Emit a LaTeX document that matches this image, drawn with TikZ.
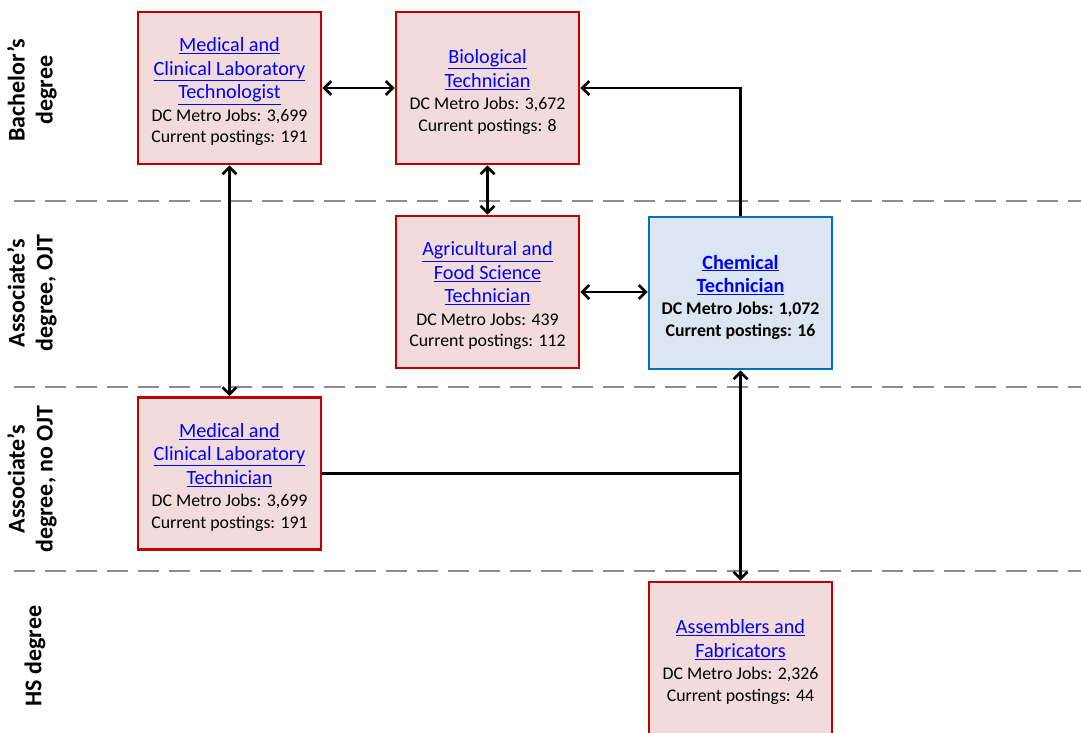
\documentclass[tikz,border=0pt]{standalone}
\usepackage{fontspec}
\setmainfont{Carlito}
\usetikzlibrary{arrows.meta}
\definecolor{redb}{HTML}{C00000}
\definecolor{redf}{HTML}{F2DCDB}
\definecolor{blueb}{HTML}{0070C0}
\definecolor{bluef}{HTML}{DCE6F2}
\definecolor{lnk}{HTML}{0000FF}
\newcommand{\lk}[1]{\textcolor{lnk}{\underline{#1}}}
\newcommand{\topstrut}{\rule{0pt}{22pt}}
\tikzset{
  job/.style={draw=redb, fill=redf, line width=2.8pt, minimum width=183pt, minimum height=152pt,
    align=center, inner sep=0pt, font=\fontsize{17.8}{21.5}\selectfont},
  chemjob/.style={job, draw=blueb, fill=bluef, font=\bfseries\fontsize{17.8}{21.5}\selectfont},
  lvl/.style={rotate=90, align=center, font=\bfseries\fontsize{24}{28}\selectfont},
  sep/.style={draw=gray!90, line width=2.2pt, dash pattern=on 21pt off 10pt},
  con/.style={line width=2.6pt, black},
  arr/.style={con, {Straight Barb[length=7pt,width=14pt,line width=2.6pt]}-{Straight Barb[length=7pt,width=14pt,line width=2.6pt]}},
  arre/.style={con, -{Straight Barb[length=7pt,width=14pt,line width=2.6pt]}},
}
\newcommand{\ttl}[1]{{\fontsize{20.2}{24.5}\selectfont #1}}
\begin{document}
\begin{tikzpicture}[x=1pt,y=-1pt]
\useasboundingbox (0,0) rectangle (1081,732);
\begin{scope}
\clip (0,0) rectangle (1081,732);
% separators
\draw[sep] (14,201) -- (1081,201);
\draw[sep] (14,387) -- (1081,387);
\draw[sep] (14,571) -- (1081,571);
% level labels
\node[lvl] (l1) at (32,90) {Bachelor’s\\degree};
\node[lvl] (l2) at (32,293) {Associate’s\\degree, OJT};
\node[lvl] (l3) at (32,479) {Associate’s\\degree, no OJT};
\node[lvl] (l4) at (35,656) {HS degree};
% jobs
\node[job] (mlt) at (229.5,88) {\topstrut\ttl{\lk{Medical and}}\\[2pt]\ttl{\lk{Clinical Laboratory}}\\[2pt]\ttl{\lk{Technologist}}\\[1pt]DC Metro Jobs: 3,699\\Current postings: 191};
\node[job] (bio) at (487.5,88) {\topstrut\ttl{\lk{Biological}}\\[2.5pt]\ttl{\lk{Technician}}\\[1pt]DC Metro Jobs: 3,672\\Current postings: 8};
\node[job] (agr) at (487.5,292) {\topstrut\ttl{\lk{Agricultural and}}\\[2pt]\ttl{\lk{Food Science}}\\[2pt]\ttl{\lk{Technician}}\\[1pt]DC Metro Jobs: 439\\Current postings: 112};
\node[chemjob] (chem) at (740.5,293) {\topstrut\ttl{\lk{Chemical}}\\[2pt]\ttl{\lk{Technician}}\\[0.5pt]DC Metro Jobs: 1,072\\Current postings: 16};
\node[job] (mltech) at (229.5,473.5) {\topstrut\ttl{\lk{Medical and}}\\[2pt]\ttl{\lk{Clinical Laboratory}}\\[2pt]\ttl{\lk{Technician}}\\[1pt]DC Metro Jobs: 3,699\\Current postings: 191};
\node[job] (asm) at (740.5,658) {\topstrut\ttl{\lk{Assemblers and}}\\[2.5pt]\ttl{\lk{Fabricators}}\\[0.5pt]DC Metro Jobs: 2,326\\Current postings: 44};
% connectors
\draw[arr] (mlt.east) -- (bio.west);
\draw[arr] (bio.south) -- (agr.north);
\draw[arr] (mlt.south) -- (mltech.north);
\draw[arr] (agr.east) -- (agr.east -| chem.west);
\draw[arre] (chem.north) |- (bio.east);
\coordinate (j) at (chem.south |- mltech.east);
\draw[con] (mltech.east) -- (j);
\draw[arr] (chem.south) -- (asm.north);
\end{scope}
\end{tikzpicture}
\end{document}
